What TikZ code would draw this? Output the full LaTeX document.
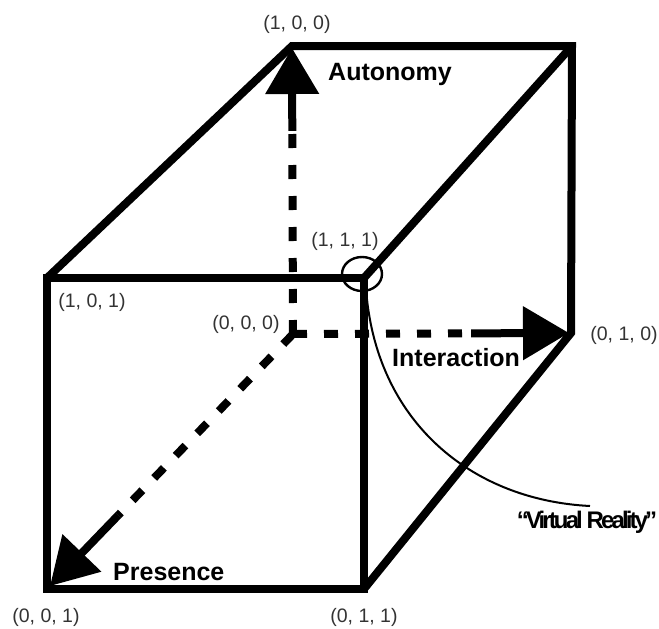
\documentclass[tikz,border=0pt]{standalone}
\usepackage{fontspec}
\setmainfont{Liberation Sans}
\usetikzlibrary{arrows.meta,calc,shapes.geometric}
\begin{document}
\begin{tikzpicture}[x=1pt,y=-1pt,
  edge/.style={line width=8pt, line join=miter},
  dashaxis/.style={line width=8pt, dash pattern=on 14pt off 17pt},
  solidaxis/.style={line width=8pt, -{Triangle[length=46pt,width=52pt]}},
  coordlabel/.style={inner sep=0pt, text=black!80, font=\fontsize{19.5}{20}\selectfont},
  axislabel/.style={inner sep=0pt, anchor=base west, font=\fontsize{25}{25}\selectfont\bfseries},
  note/.style={line width=2pt}
]
\useasboundingbox (0,0) rectangle (659,629);
% corners
\coordinate (c100) at (292,46);
\coordinate (cbtr) at (572,46);
\coordinate (c010) at (571,333);
\coordinate (c000) at (293,334);
\coordinate (c101) at (47,278);
\coordinate (c111) at (364,278);
\coordinate (c001) at (47,589);
\coordinate (c011) at (364,589);
% arrow tips
\coordinate (tipA) at (292,48);
\coordinate (tipI) at (569,333);
\coordinate (tipP) at (50,586);
\coordinate (sA) at ($(c000)!0.71!(tipA)$);
\coordinate (sI) at ($(c000)!0.645!(tipI)$);
\coordinate (sP) at ($(c000)!0.72!(tipP)$);
% dashed axes
\draw[dashaxis] (c000) -- (sA);
\draw[dashaxis] (c000) -- (sI);
\draw[dashaxis] (c000) -- (sP);
\draw[solidaxis] (sA) -- (tipA);
\draw[solidaxis] (sI) -- (tipI);
\draw[solidaxis] (sP) -- (tipP);
% cube edges
\draw[edge] (c101) -- (c100) -- (cbtr) -- (c010) -- (c011);
\draw[edge] (c111) -- (cbtr);
\draw[edge] (c101) rectangle (c011);
% circle and callout
\node[draw, line width=2.4pt, ellipse, minimum width=40pt, minimum height=34pt, inner sep=0pt] (ring) at (362,274) {};
\coordinate (callstart) at (366,288);
\coordinate (callend) at (590,506);
\draw[note] (callstart) .. controls (375,420) and (470,500) .. (callend);
% labels
\node[axislabel] (lAut) at (328,80) {Autonomy};
\node[axislabel] (lInt) at (392,366) {Interaction};
\node[axislabel] (lPre) at (113,580) {Presence};
\node[inner sep=0pt, font=\fontsize{24}{24}\selectfont\bfseries\addfontfeature{LetterSpace=-12}] (lVR) at (587,522) {“Virtual Reality”};
\node[coordlabel] (n100) at (297,24) {(1, 0, 0)};
\node[coordlabel] (n101) at (92,302) {(1, 0, 1)};
\node[coordlabel] (n000) at (246,324) {(0, 0, 0)};
\node[coordlabel] (n111) at (345,241) {(1, 1, 1)};
\node[coordlabel] (n010) at (624,335) {(0, 1, 0)};
\node[coordlabel] (n001) at (46,617) {(0, 0, 1)};
\node[coordlabel] (n011) at (364,617) {(0, 1, 1)};
\end{tikzpicture}
\end{document}
